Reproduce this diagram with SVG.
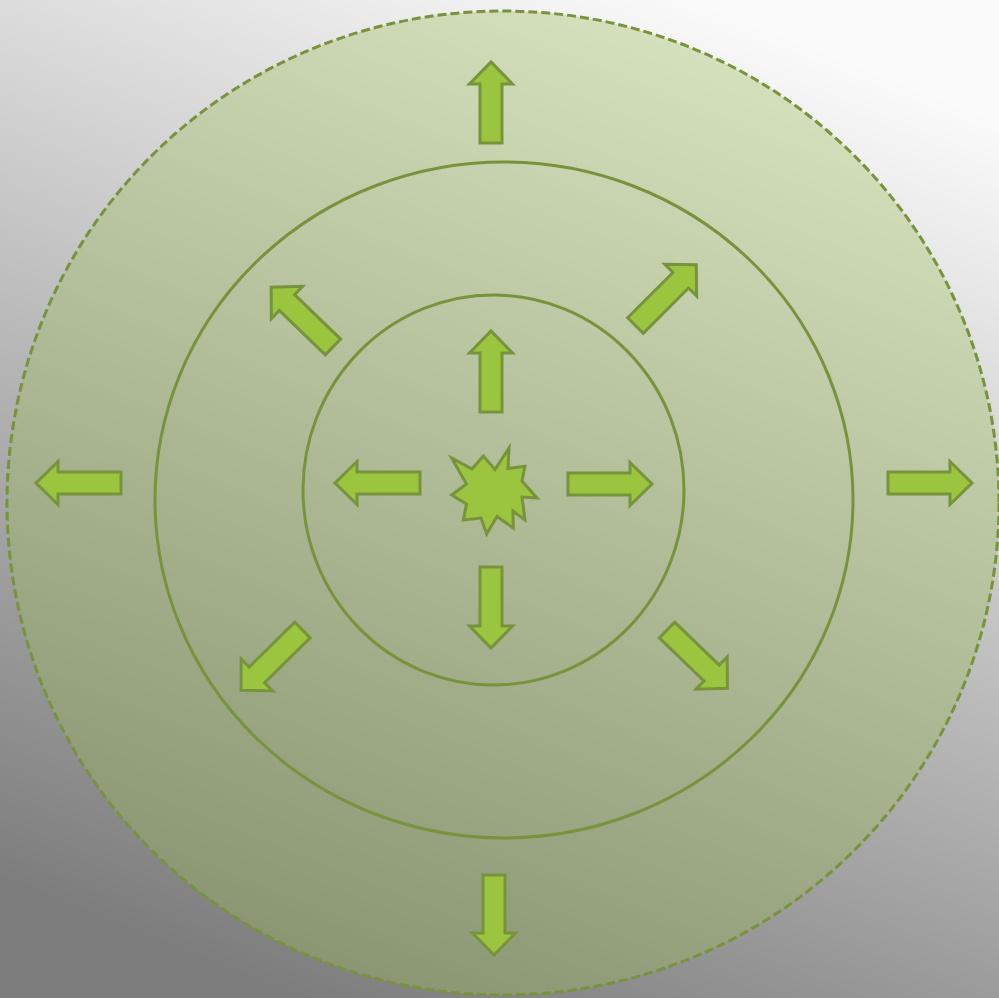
<svg xmlns="http://www.w3.org/2000/svg" width="999" height="998" viewBox="0 0 999 998">
  <defs>
    <linearGradient id="bg" x1="0.7" y1="0" x2="0.3" y2="1">
      <stop offset="0" stop-color="#fafafa"/>
      <stop offset="1" stop-color="#7d7d7d"/>
    </linearGradient>
  </defs>
  <style>
    .ring { fill: none; stroke: #77933c; stroke-width: 3; }
    .arrow { fill: #9bc53f; stroke: #77933c; stroke-width: 3; stroke-linejoin: miter; }
  </style>
  <rect x="0" y="0" width="999" height="998" fill="url(#bg)"/>
  <g id="outer-zone">
    <ellipse cx="503" cy="503" rx="496" ry="492" fill="#9bbb59" fill-opacity="0.36" stroke="#77933c" stroke-width="3" stroke-dasharray="9 4"/>
  </g>
  <g id="middle-zone">
    <ellipse class="ring" cx="504" cy="500" rx="349" ry="338"/>
  </g>
  <g id="inner-zone">
    <ellipse class="ring" cx="493.5" cy="490" rx="190.5" ry="195"/>
  </g>
  <g id="burst">
    <polygon class="arrow" points="451.7,458 472,469 483.3,456 495,469.5 509,448 508,468.5 525,466.3 522,481 537,498 522,497 525,520 513,511 513.3,528 497,516.5 486.7,534 481,518 463.3,520 466.5,504 451.7,495 466.5,484"/>
  </g>
  <g id="connectors">
    <!-- inner ring arrows -->
    <path class="arrow" transform="translate(491,412) rotate(-90)" d="M0,-11 H59 V-21.5 L81,0 L59,21.5 V11 H0 Z"/>
    <path class="arrow" transform="translate(491,567) rotate(90)" d="M0,-11 H59 V-21.5 L81,0 L59,21.5 V11 H0 Z"/>
    <path class="arrow" transform="translate(420,483) rotate(180)" d="M0,-11 H63 V-21.5 L85,0 L63,21.5 V11 H0 Z"/>
    <path class="arrow" transform="translate(568,484)" d="M0,-11 H62 V-21.5 L84,0 L62,21.5 V11 H0 Z"/>
    <!-- middle ring diagonal arrows -->
    <path class="arrow" transform="translate(635.5,325.5) rotate(-45)" d="M0,-11 H64 V-22.5 L86,0 L64,22.5 V11 H0 Z"/>
    <path class="arrow" transform="translate(333,347) rotate(-136)" d="M0,-11 H64 V-22.5 L86,0 L64,22.5 V11 H0 Z"/>
    <path class="arrow" transform="translate(302.5,630) rotate(135.5)" d="M0,-11 H64 V-22.5 L86,0 L64,22.5 V11 H0 Z"/>
    <path class="arrow" transform="translate(667,630) rotate(44)" d="M0,-11 H62 V-22.5 L84,0 L62,22.5 V11 H0 Z"/>
    <!-- outer ring arrows -->
    <path class="arrow" transform="translate(491,143) rotate(-90)" d="M0,-11 H59 V-21.5 L81,0 L59,21.5 V11 H0 Z"/>
    <path class="arrow" transform="translate(494,875) rotate(90)" d="M0,-11 H58 V-21.5 L80,0 L58,21.5 V11 H0 Z"/>
    <path class="arrow" transform="translate(121,483) rotate(180)" d="M0,-11 H63 V-21.5 L85,0 L63,21.5 V11 H0 Z"/>
    <path class="arrow" transform="translate(888,483)" d="M0,-11 H62 V-21.5 L84,0 L62,21.5 V11 H0 Z"/>
  </g>
</svg>
